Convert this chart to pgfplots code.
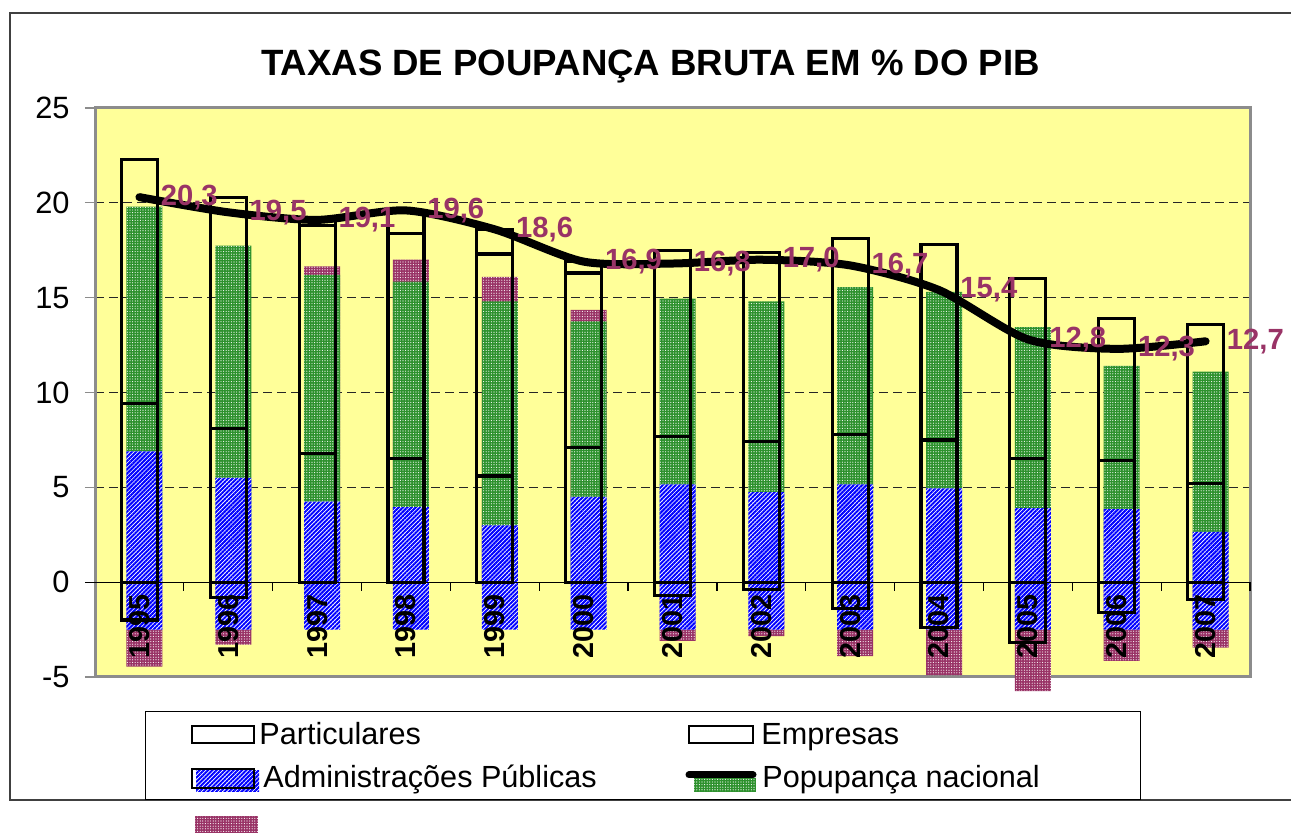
\documentclass[border=0pt]{standalone}
\usepackage{fontspec}
\setmainfont{Liberation Sans}
\usepackage{pgfplots}
\usepackage{pgfplotstable}
\pgfplotsset{compat=1.18}
\usetikzlibrary{patterns.meta}
\definecolor{plotbg}{RGB}{255,255,153}
\definecolor{labc}{RGB}{153,51,102}
\definecolor{gfill}{RGB}{45,145,45}
\definecolor{pfill}{RGB}{153,51,102}
\definecolor{bordergray}{RGB}{140,140,140}
\tikzset{
 bluefill/.style={fill=white, postaction={pattern={Lines[angle=45,distance=1.5pt,line width=1.0pt]}, pattern color=blue}},
 greenfill/.style={fill=gfill, postaction={pattern={Dots[radius=0.28pt,distance=1.3pt]}, pattern color=white}},
 pinkfill/.style={fill=pfill, postaction={pattern={Dots[radius=0.28pt,distance=1.3pt]}, pattern color=white}},
}
% outlined stack: Particulares, Empresas, Administracoes Publicas
\pgfplotstableread{
x P E AP
0 9.4 12.9 -2.0
1 8.1 12.2 -0.8
2 6.8 12.0 0.3
3 6.5 11.9 1.2
4 5.6 11.7 1.3
5 7.1 9.2 0.6
6 7.7 9.8 -0.7
7 7.4 10.0 -0.4
8 7.8 10.3 -1.4
9 7.5 10.3 -2.4
10 6.5 9.5 -3.2
11 6.4 7.5 -1.6
12 5.2 8.4 -0.9
}\outl
% filled bars (tops / bottoms)
\pgfplotstableread{
x bneg blue green pink
0 -2.5 6.9 19.8 -4.45
1 -2.5 5.5 17.75 -3.3
2 -2.5 4.25 16.2 16.65
3 -2.5 3.95 15.85 17.0
4 -2.5 3.0 14.8 16.1
5 -2.5 4.5 13.75 14.35
6 -2.5 5.15 14.95 -3.1
7 -2.5 4.75 14.8 -2.85
8 -2.5 5.15 15.55 -3.9
9 -2.5 4.95 15.3 -4.9
10 -2.5 3.9 13.45 -5.75
11 -2.5 3.85 11.4 -4.15
12 -2.5 2.65 11.1 -3.45
}\filled
% national savings
\pgfplotstableread{
x nat lab
0 20.3 20,3
1 19.5 19,5
2 19.1 19,1
3 19.6 19,6
4 18.6 18,6
5 16.9 16,9
6 16.8 16,8
7 17.0 17,0
8 16.7 16,7
9 15.4 15,4
10 12.8 12,8
11 12.3 12,3
12 12.7 12,7
}\natall
\begin{document}
\begin{tikzpicture}
\path[use as bounding box] (0pt,0pt) rectangle (645.5pt,417pt);
\draw[color=black!75, line width=0.75pt] (645.5pt,410.5pt) -- (5pt,410.5pt) -- (5pt,17pt) -- (645.5pt,17pt);
\node[anchor=base, font=\fontsize{18.3}{22}\selectfont\bfseries, inner sep=0pt] at (325.25pt,379pt) {TAXAS DE POUPANÇA BRUTA EM \% DO PIB};
\begin{axis}[at={(47.5pt,78.5pt)}, anchor=south west, scale only axis,
 width=577.5pt, height=284.5pt,
 xmin=-0.5, xmax=12.5, ymin=-5, ymax=25, clip=false,
 axis background/.style={fill=plotbg},
 axis line style={draw=bordergray, line width=1.5pt},
 xtick=\empty, ytick={-5,0,5,10,15,20,25}, yticklabels={-5,0,5,10,15,20,25},
 ytick pos=left, tick align=outside, major tick length=5pt,
 ytick style={draw=bordergray, line width=0.6pt},
 yticklabel style={font=\fontsize{15.4}{18}\selectfont, inner sep=0pt, anchor=east, xshift=-7.5pt},
 ymajorgrids, major grid style={dash pattern=on 4.5pt off 2.5pt, line width=0.6pt, black!85},
 bar width=18pt,
]
% filled bars (painter's order)
\addplot[ybar, bar shift=2.5pt, draw=none, pinkfill] table[x=x, y=pink] {\filled};
\addplot[ybar, bar shift=2.5pt, draw=none, greenfill] table[x=x, y=green] {\filled};
\addplot[ybar, bar shift=2.5pt, draw=none, bluefill] table[x=x, y=blue] {\filled};
\addplot[ybar, bar shift=2.5pt, draw=none, bluefill] table[x=x, y=bneg] {\filled};
% zero line and category ticks
\draw[black, line width=0.6pt] ([xshift=-5pt]axis cs:-0.5,0) -- (axis cs:12.5,0);
\pgfplotsinvokeforeach{0,...,12}{\draw[black, line width=0.6pt] (axis cs:#1+0.5,0) -- ++(0pt,-4.5pt);}
% outlined bars
\addplot[ybar, bar shift=0pt, draw=black, fill=none, line width=1.6pt] table[x=x, y expr={\thisrow{P}+\thisrow{E}+max(\thisrow{AP},0)}] {\outl};
\addplot[ybar, bar shift=0pt, draw=black, fill=none, line width=1.6pt] table[x=x, y expr={\thisrow{P}+\thisrow{E}}] {\outl};
\addplot[ybar, bar shift=0pt, draw=black, fill=none, line width=1.6pt] table[x=x, y=P] {\outl};
\addplot[ybar, bar shift=0pt, draw=black, fill=none, line width=1.6pt] table[x=x, y expr={min(\thisrow{AP},0)}] {\outl};
% national savings line
\addplot[black, line width=4pt, smooth, tension=0.45, line cap=round, line join=round, mark=none] table[x=x, y=nat] {\natall};
% labels
\addplot[draw=none, mark=none, nodes near coords, point meta=explicit symbolic,
 every node near coord/.style={anchor=west, inner sep=0pt, xshift=10.5pt, yshift=0pt, font=\fontsize{14.6}{17}\selectfont\bfseries, text=labc}] table[x=x, y=nat, meta=lab] {\natall};
% year labels
\pgfplotsinvokeforeach{0,...,12}{\node[rotate=90, anchor=east, inner sep=0pt, font=\fontsize{14.4}{17}\selectfont\bfseries] at (axis cs:#1,-0.62) {\pgfmathparse{int(1995+#1)}\pgfmathresult};}
\end{axis}
% legend
\draw[black, line width=0.5pt] (72.5pt,17pt) rectangle (570pt,61pt);
\draw[black, line width=1.2pt, fill=white] (96pt,45.5pt) rectangle (127pt,54pt);
\node[anchor=base west, inner sep=0pt, font=\fontsize{15.3}{18}\selectfont] at (129.5pt,44.5pt) {Particulares};
\draw[black, line width=1.2pt, fill=white] (344.5pt,45.5pt) rectangle (376.5pt,54pt);
\node[anchor=base west, inner sep=0pt, font=\fontsize{15.3}{18}\selectfont] at (380.5pt,44.5pt) {Empresas};
\path[bluefill] (98pt,21pt) rectangle (129.5pt,31.5pt);
\draw[black, line width=1.2pt] (96pt,23pt) rectangle (127pt,32.5pt);
\node[anchor=base west, inner sep=0pt, font=\fontsize{15.3}{18}\selectfont] at (131.5pt,23pt) {Administrações Públicas};
\path[greenfill] (347pt,21pt) rectangle (378pt,28pt);
\draw[black, line width=3.5pt, line cap=round] (344.5pt,29.5pt) -- (376.5pt,29.5pt);
\node[anchor=base west, inner sep=0pt, font=\fontsize{15.3}{18}\selectfont] at (381pt,23pt) {Popupança nacional};
\path[pinkfill] (97.5pt,0.5pt) rectangle (129pt,9pt);
\end{tikzpicture}
\end{document}
